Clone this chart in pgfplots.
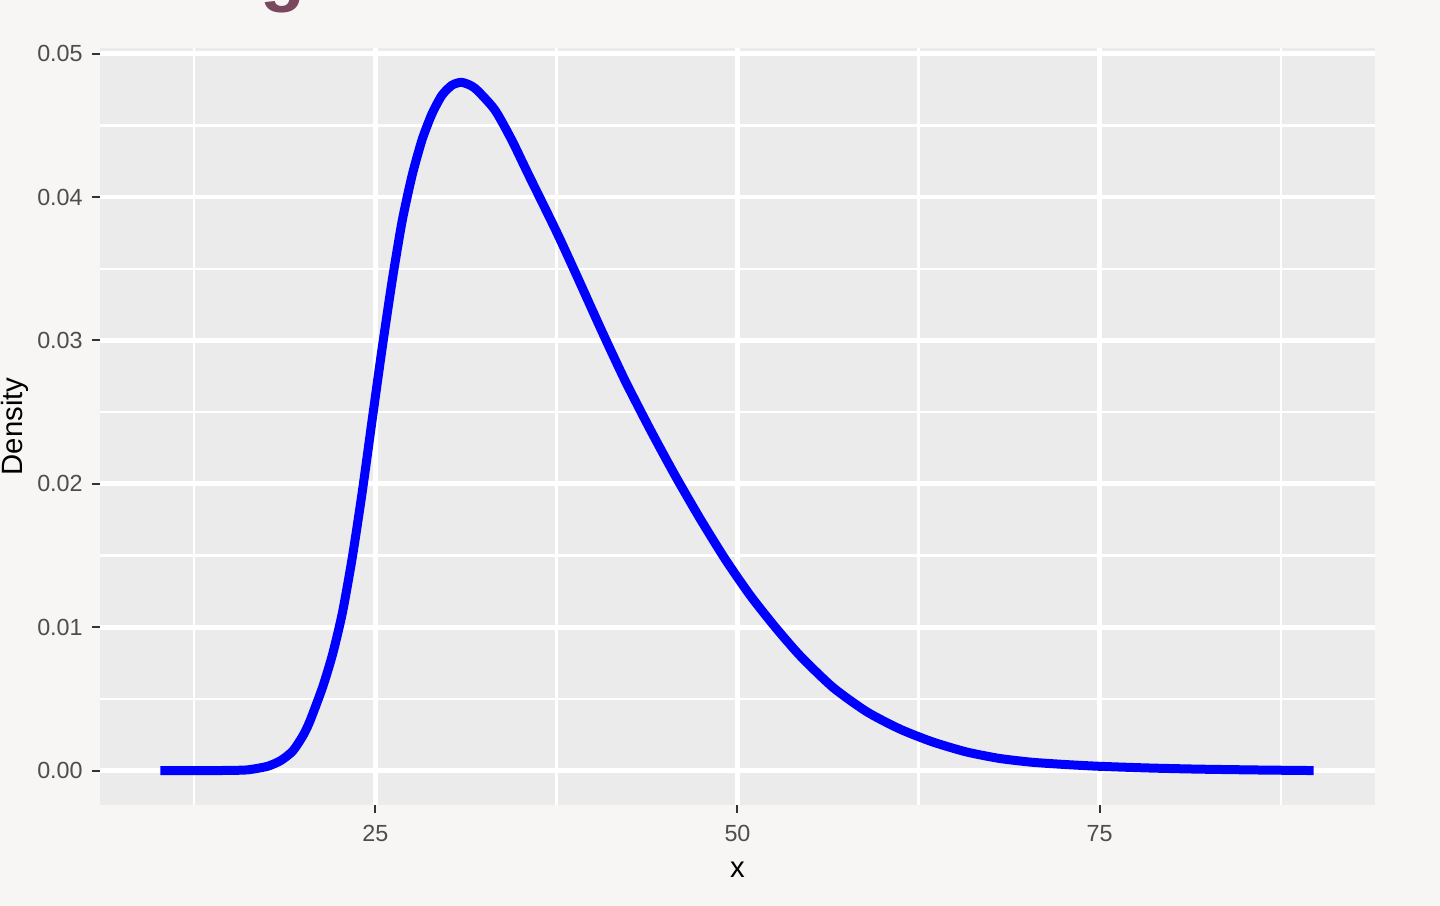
\documentclass[border=0pt]{standalone}
\usepackage{pgfplots}
\pgfplotsset{compat=1.18}
\usepackage{fontspec}
\setmainfont{Liberation Sans}
\definecolor{bg}{RGB}{248,246,244}
\definecolor{panel}{RGB}{235,235,235}
\definecolor{ticklab}{RGB}{77,77,77}
\definecolor{tickc}{RGB}{51,51,51}
\definecolor{titlec}{RGB}{122,72,94}
\definecolor{curve}{RGB}{0,0,255}

\pgfplotstableread{
x y
10.16 0
12.0 0
14.0 0
15.9 0.00003
16.55 0.0001
17.58 0.0003
18.48 0.0007
19.30 0.00136
19.99 0.0024
20.47 0.0034
21.36 0.0058
22.05 0.0081
22.73 0.0110
23.42 0.0149
24.11 0.0195
24.79 0.0245
25.48 0.0295
26.17 0.0342
26.85 0.0383
27.54 0.0415
28.23 0.0440
28.91 0.0458
29.60 0.0471
30.29 0.0478
30.98 0.0480
31.87 0.0476
33.24 0.0461
34.41 0.0440
35.51 0.0417
37.50 0.0376
38.87 0.0346
40.66 0.0306
42.24 0.0272
44.02 0.0237
45.74 0.0205
47.46 0.0175
49.18 0.0147
50.89 0.0122
52.61 0.0100
54.33 0.0080
56.59 0.0058
58.93 0.0041
61.20 0.0029
63.46 0.0020
65.80 0.0013
68.06 0.00085
70.33 0.00058
72.66 0.00042
74.93 0.0003
78.37 0.00018
81.80 0.0001
85.90 0.00004
89.77 0
}\densitydata

\begin{document}
\begin{tikzpicture}
\fill[bg] (-30pt,-30.3pt) rectangle (402pt,241.5pt);
\path[use as bounding box] (-30pt,-30.3pt) rectangle (402pt,241.5pt);
\node[anchor=base, text=titlec, font=\bfseries\fontsize{22}{26}\selectfont, inner sep=0pt] at (54.9pt,242.2pt) {g};
\begin{axis}[
  at={(0,0)}, anchor=south west,
  scale only axis, width=382.5pt, height=227.1pt,
  xmin=6, xmax=94, ymin=-0.0024, ymax=0.0504,
  axis background/.style={fill=panel},
  axis line style={draw=none},
  xtick={25,50,75},
  ytick={0,0.01,0.02,0.03,0.04,0.05},
  minor xtick={12.5,37.5,62.5,87.5},
  minor ytick={0.005,0.015,0.025,0.035,0.045},
  grid=both,
  major grid style={white, line width=1.4pt},
  minor grid style={white, line width=0.7pt},
  tick align=outside,
  major tick length=2.4pt,
  minor tick length=0pt,
  xtick pos=bottom, ytick pos=left,
  tick style={tickc, line width=0.6pt},
  /pgf/number format/assume math mode=true,
  scaled y ticks=false,
  yticklabel={\pgfmathprintnumber[fixed, fixed zerofill, precision=2]{\tick}},
  ticklabel style={font=\fontsize{7}{8}\selectfont, text=ticklab},
  xticklabel style={anchor=north, inner sep=0pt, yshift=-3.4pt},
  yticklabel style={anchor=east, inner sep=0pt, xshift=-2.6pt},
  xlabel={x}, ylabel={Density},
  label style={font=\fontsize{8.8}{10}\selectfont, text=black},
  xlabel style={at={(axis description cs:0.5,-0.0859)}, anchor=center},
  ylabel style={at={(axis description cs:-0.0667,0.5)}, anchor=center},
]
\addplot[curve, line width=2.7pt, line join=round, line cap=butt, smooth, tension=0.4] table[x=x, y=y] {\densitydata};
\end{axis}
\end{tikzpicture}
\end{document}
